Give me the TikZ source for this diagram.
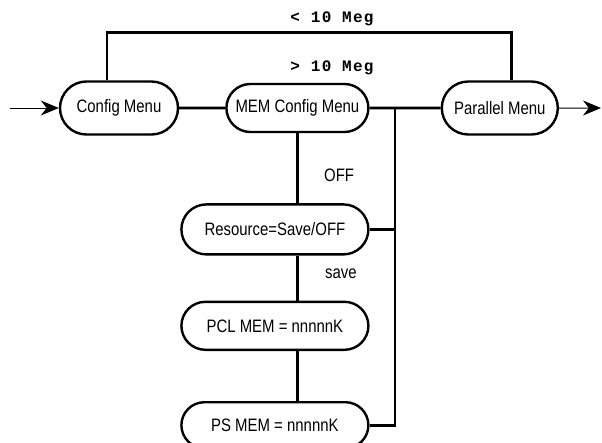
\documentclass[tikz,border=0pt]{standalone}
\usepackage{fontspec}
\setmainfont{Liberation Sans}[FakeStretch=0.83]
\newfontfamily\megfont[LetterSpace=8]{Liberation Mono}
\usetikzlibrary{arrows.meta, positioning, shapes.misc}

\begin{document}
\begin{tikzpicture}[
    node distance=46pt,
    >={Stealth[length=18pt,width=15pt]},
    menu/.style={rounded rectangle, draw, line width=2.4pt, minimum height=50pt, inner sep=2pt, font=\fontsize{18}{21}\selectfont},
    link/.style={line width=2.8pt},
    flow/.style={->, line width=1pt},
    tag/.style={font=\fontsize{18}{21}\selectfont},
    meg/.style={font=\megfont\bfseries\fontsize{16}{19}\selectfont}
  ]
    \useasboundingbox (0,0) rectangle (602pt,-442pt);

    \node[menu, minimum width=122pt, minimum height=53pt] (config) at (119pt,-108pt) {Config Menu};
    \node[menu, minimum width=146pt, minimum height=48pt, right=46pt of config] (memconfig) {MEM Config Menu};
    \node[menu, minimum width=120pt, minimum height=53pt, right=71pt of memconfig] (parallel) {Parallel Menu};
    \node[menu, minimum width=191pt, below=70pt of memconfig, xshift=-22.5pt] (resource) {Resource=Save/OFF};
    \node[menu, minimum width=191pt, minimum height=48pt, below=45pt of resource] (pclmem) {PCL MEM = nnnnnK};
    \node[menu, minimum width=191pt, minimum height=46pt, below=50pt of pclmem] (psmem) {PS MEM = nnnnnK};

    \node[meg] (lessmeg) at (332pt,-19pt) {< 10 Meg};
    \node[meg] (moremeg) at (332pt,-68pt) {> 10 Meg};

    \coordinate (in) at (10pt,-108pt);
    \coordinate (out) at (601pt,-108pt);
    \coordinate (bus) at (395pt,-108pt);

    \draw[flow] (in) -- (config);
    \draw[flow] (parallel) -- (out);
    \draw[link] (config) -- (memconfig);
    \draw[link] (memconfig) -- (parallel);
    \draw[link] ([xshift=-12pt]config.north) -- ++(0,48pt) -| ([xshift=12pt]parallel.north);
    \draw[link] (bus) |- (psmem.east);
    \draw[link] (resource.east) -- (resource.east -| bus);
    \draw[link] (memconfig.south) -- (memconfig.south |- resource.north)
      node[tag, pos=0.6, right=22pt] (off) {OFF};
    \draw[link] (memconfig.south |- resource.south) -- (memconfig.south |- pclmem.north)
      node[tag, pos=0.4, right=23pt] (save) {save};
    \draw[link] (memconfig.south |- pclmem.south) -- (memconfig.south |- psmem.north);
  \end{tikzpicture}
\end{document}
